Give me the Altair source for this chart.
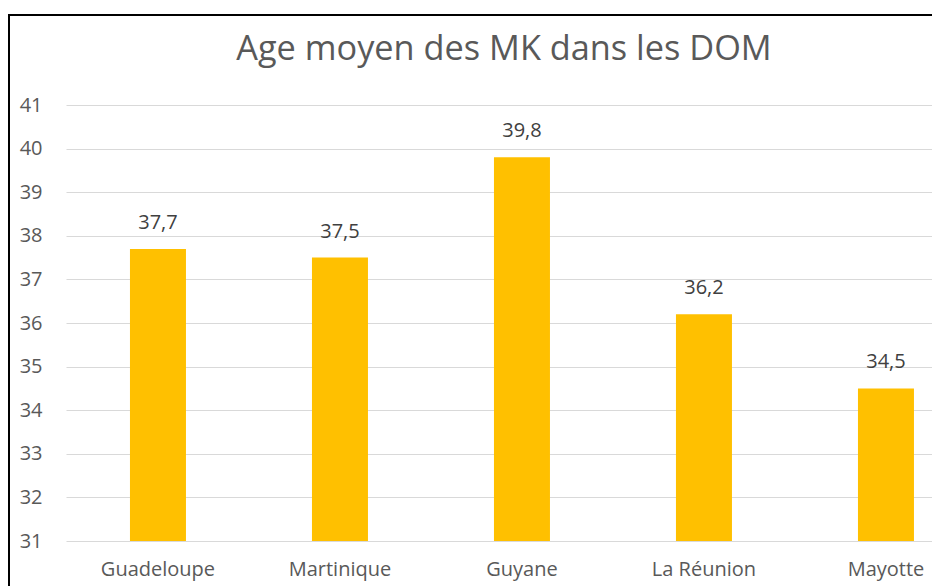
import altair as alt
import pandas as pd

categories = ["Guadeloupe", "Martinique", "Guyane", "La Réunion", "Mayotte"]
values = [37.7, 37.5, 39.8, 36.2, 34.5]
labels = [f"{v:.1f}".replace(".", ",") for v in values]
y_ticks = list(range(31, 42))

df = pd.DataFrame({"dom": categories, "age": values, "label": labels})

FONT = "Open Sans"
W, H = 866, 436

x = alt.X("dom:N", sort=categories, title=None,
          scale=alt.Scale(paddingInner=0.6923, paddingOuter=0.2253, align=0.78, round=False),
          axis=alt.Axis(labelAngle=0, ticks=False, domain=False, labelPadding=18,
                        labelFont=FONT, labelFontSize=20, labelColor="#595959"))
y = alt.Y("age:Q", title=None,
          scale=alt.Scale(domain=[31, 41], nice=False, zero=False),
          axis=alt.Axis(values=y_ticks, ticks=False, domain=False, labelPadding=24,
                        labelFont=FONT, labelFontSize=20, labelColor="#595959",
                        gridColor="#d9d9d9", gridWidth=1.2))

bars = alt.Chart(df).mark_bar(color="#FFC000").encode(x=x, y=y, y2=alt.datum(31))

text = alt.Chart(df).mark_text(font=FONT, fontSize=20, color="#404040",
                               baseline="alphabetic", dy=-20).encode(
    x=alt.X("dom:N", sort=categories), y="age:Q", text="label:N")

frame_src = pd.DataFrame({"a": [0]})
left_line = alt.Chart(frame_src).mark_rule(color="#000000", strokeWidth=2).encode(
    x=alt.value(-57), y=alt.value(-91), y2=alt.value(490))
top_line = alt.Chart(frame_src).mark_rule(color="#000000", strokeWidth=2).encode(
    x=alt.value(-58), x2=alt.value(W), y=alt.value(-90))

chart = alt.layer(bars, text, left_line, top_line).properties(
    width=W, height=H,
    padding={"left": 58, "top": 97, "right": 0, "bottom": 45},
    autosize=alt.AutoSizeParams(type="none"),
    title=alt.TitleParams("Age moyen des MK dans les DOM", font=FONT, fontSize=34.3,
                          fontWeight="normal", color="#595959", anchor="middle",
                          offset=-54, dx=5),
).configure(background="white").configure_view(stroke=None)

chart.save("out.html", embed_options={"renderer": "svg", "actions": False})
